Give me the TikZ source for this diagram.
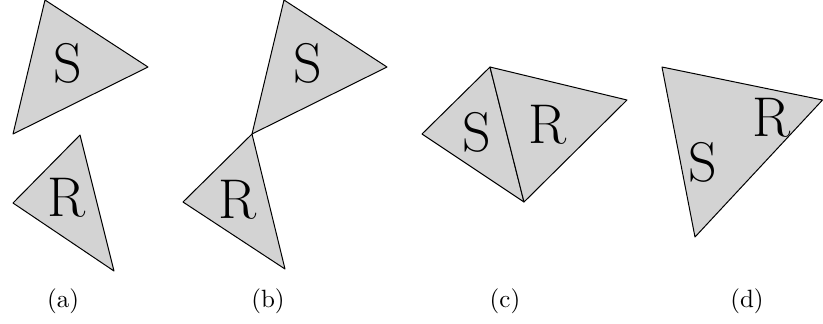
\documentclass[tikz,border=0pt]{standalone}
\usepackage{tikz}
\usetikzlibrary{positioning, calc}
\definecolor{tripart}{RGB}{211,211,211}

\begin{document}
\begin{tikzpicture}[x=0.4pt, y=-0.4pt,
  tri/.style={draw=black, fill=tripart, line width=0.4pt, line join=round},
  big/.style={inner sep=0pt, font=\fontsize{22.4}{26}\selectfont},
  sublabel/.style={inner sep=0pt, anchor=base, font=\normalsize}
]
\useasboundingbox (0,0) rectangle (823,323);
% (a)
\draw[tri] (45,0) -- (148,67) -- (13,134) -- cycle;
\draw[tri] (80,135) -- (114,271) -- (13,203) -- cycle;
\node[big] (sa) at (68,63) {S};
\node[big] (ra) at (67,198) {R};
% (b)
\draw[tri] (284,0) -- (387,67) -- (252,134) -- cycle;
\draw[tri] (252,134) -- (285,269) -- (183,202) -- cycle;
\node[big] (sb) at (308,63) {S};
\node[big] (rb) at (238,200) {R};
% (c)
\draw[tri] (490,67) -- (524,202) -- (422,134) -- cycle;
\draw[tri] (490,67) -- (627,100) -- (524,202) -- cycle;
\node[big] (sc) at (477,132) {S};
\node[big] (rc) at (548,125) {R};
% (d)
\draw[tri] (662,67) -- (822.5,100) -- (695,237) -- cycle;
\node[big] (sd) at (703,162) {S};
\node[big] (rd) at (772,118) {R};
% Labels
\node[sublabel] (la) at (63,307) {(a)};
\node[sublabel] (lb) at (268,307) {(b)};
\node[sublabel] (lc) at (505,307) {(c)};
\node[sublabel] (ld) at (747,307) {(d)};
\end{tikzpicture}
\end{document}
